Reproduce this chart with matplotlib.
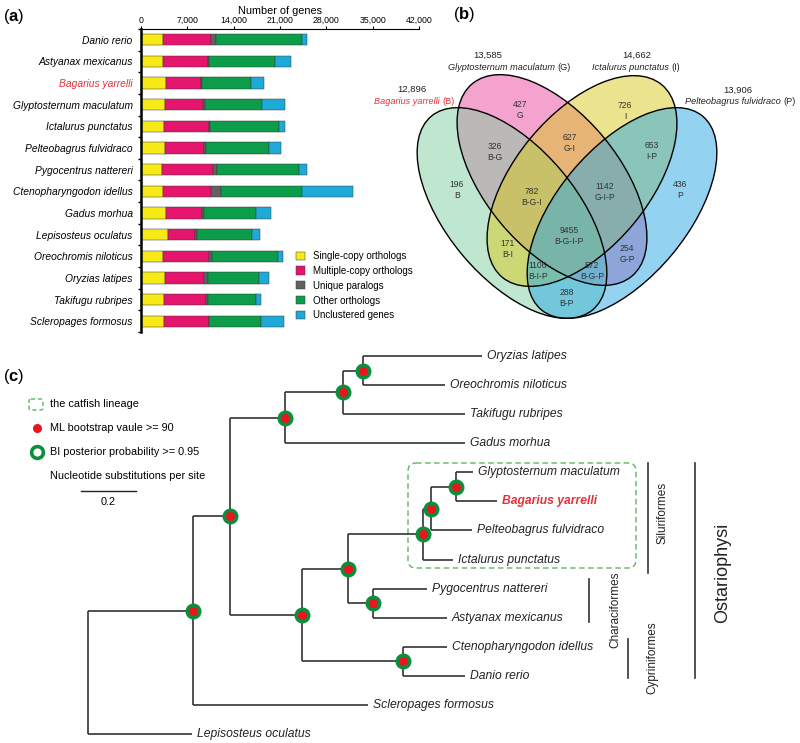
import numpy as np
import matplotlib
matplotlib.use("Agg")
import matplotlib.pyplot as plt
from matplotlib.patches import Ellipse, FancyBboxPatch, Rectangle

plt.rcParams['font.family'] = ['Liberation Sans', 'DejaVu Sans']
plt.rcParams['mathtext.fontset'] = 'custom'
plt.rcParams['mathtext.bf'] = 'Liberation Sans:bold'

# =========================
# data (a): gene family clustering
# =========================
species = ["Danio rerio", "Astyanax mexicanus", "Bagarius yarrelli",
           "Glyptosternum maculatum", "Ictalurus punctatus", "Pelteobagrus fulvidraco",
           "Pygocentrus nattereri", "Ctenopharyngodon idellus", "Gadus morhua",
           "Lepisosteus oculatus", "Oreochromis niloticus", "Oryzias latipes",
           "Takifugu rubripes", "Scleropages formosus"]
single_copy = [3330, 3380, 3780, 3680, 3530, 3680, 3230, 3380, 3730, 4130, 3380, 3680, 3530, 3430]
multi_copy = [7210, 6700, 5300, 5750, 6700, 5900, 7620, 7160, 5500, 4100, 6910, 5800, 6350, 6800]
unique_para = [800, 150, 100, 300, 250, 300, 600, 1510, 250, 300, 400, 600, 200, 100]
other_orth = [12960, 10040, 7400, 8520, 10400, 9430, 12400, 12210, 7920, 8310, 9990, 7770, 7320, 7770]
unclustered = [850, 2380, 2070, 3430, 910, 1870, 1200, 7810, 2220, 1160, 700, 1460, 700, 3430]
bar_names = ["Single-copy orthologs", "Multiple-copy orthologs", "Unique paralogs",
             "Other orthologs", "Unclustered genes"]
bar_colors = ["#f7ea16", "#e5156d", "#616161", "#0c9d4b", "#1eaad8"]

# =========================
# data (b): venn
# =========================
set_codes = ["B", "G", "I", "P"]
set_names = ["Bagarius yarrelli", "Glyptosternum maculatum", "Ictalurus punctatus",
             "Pelteobagrus fulvidraco"]
set_totals = [12896, 13585, 14662, 13906]
region_codes = ["B", "G", "I", "P", "B-G", "G-I", "I-P", "B-G-I", "G-I-P",
                "B-I", "G-P", "B-G-I-P", "B-I-P", "B-G-P", "B-P"]
region_counts = [196, 427, 726, 436, 326, 627, 653, 782, 1142, 171, 254, 9455, 1106, 572, 288]

# =========================
# data (c): tree (depth in substitutions per site)
# =========================
tips = ["Oryzias latipes", "Oreochromis niloticus", "Takifugu rubripes", "Gadus morhua",
        "Glyptosternum maculatum", "Bagarius yarrelli", "Pelteobagrus fulvidraco",
        "Ictalurus punctatus", "Pygocentrus nattereri", "Astyanax mexicanus",
        "Ctenopharyngodon idellus", "Danio rerio", "Scleropages formosus", "Lepisosteus oculatus"]
tip_depth = [1.433, 1.298, 1.371, 1.371, 1.40, 1.487, 1.396, 1.327, 1.233, 1.305,
             1.305, 1.371, 1.018, 0.378]
node_depth = {"root": 0.0, "n1": 0.382, "n2": 0.516, "n3": 0.716, "n4": 0.927, "n5": 1.0,
              "n7": 0.778, "n8": 0.945, "n9": 1.218, "n10": 1.247, "n11": 1.338,
              "n12": 1.145, "n13": 1.036}
node_children = {"root": ["n1", "Lepisosteus oculatus"],
                 "n1": ["n2", "Scleropages formosus"],
                 "n2": ["n3", "n7"],
                 "n3": ["n4", "Gadus morhua"],
                 "n4": ["n5", "Takifugu rubripes"],
                 "n5": ["Oryzias latipes", "Oreochromis niloticus"],
                 "n7": ["n8", "n12"],
                 "n8": ["n9", "n13"],
                 "n9": ["n10", "Ictalurus punctatus"],
                 "n10": ["n11", "Pelteobagrus fulvidraco"],
                 "n11": ["Glyptosternum maculatum", "Bagarius yarrelli"],
                 "n12": ["Ctenopharyngodon idellus", "Danio rerio"],
                 "n13": ["Pygocentrus nattereri", "Astyanax mexicanus"]}

RED = "#e2323a"
LINE = "#333333"

fig = plt.figure(figsize=(8, 7.43), dpi=100)

# pixel overlay for decorations
ov = fig.add_axes([0, 0, 1, 1])
ov.set_xlim(0, 800)
ov.set_ylim(743, 0)
ov.axis("off")

# =========================
# (a) stacked bars
# =========================
axa = fig.add_axes([141 / 800, 1 - 332 / 743, 278 / 800, 303 / 743])
ypos = np.arange(len(species))
left = np.zeros(len(species))
for vals, col, name in zip([single_copy, multi_copy, unique_para, other_orth, unclustered],
                           bar_colors, bar_names):
    axa.barh(ypos, vals, left=left, height=0.52, color=col, edgecolor="#3a3a3a",
             linewidth=0.35, label=name)
    left += np.array(vals)
axa.set_xlim(0, 42000)
axa.set_ylim(13.5, -0.5)
axa.xaxis.tick_top()
axa.xaxis.set_label_position("top")
axa.set_xticks(range(0, 42001, 7000))
axa.set_xticklabels([f"{v:,}" for v in range(0, 42001, 7000)])
axa.set_xlabel("Number of genes", fontsize=7.8, labelpad=1.5)
axa.tick_params(axis="x", labelsize=6.3, length=2, width=0.8, pad=0.8)
axa.set_yticks(ypos)
axa.set_yticklabels(species, style="italic", fontsize=7.4)
axa.set_yticks(np.arange(-0.5, 14, 1), minor=True)
axa.tick_params(axis="y", which="major", length=0, pad=6)
axa.tick_params(axis="y", which="minor", length=2.5, width=1.0)
axa.get_yticklabels()[2].set_color(RED)
for s in ["right", "bottom"]:
    axa.spines[s].set_visible(False)
axa.spines["left"].set_linewidth(1.8)
axa.spines["top"].set_linewidth(0.8)
axa.patch.set_alpha(0)
axa.legend(loc="upper left", bbox_to_anchor=(296, 251), bbox_transform=ov.transData,
           frameon=False, fontsize=7, handlelength=0.9, handleheight=0.9,
           handletextpad=0.8, labelspacing=0.5, borderpad=0, borderaxespad=0)

ov.text(3, 17, r"($\mathbf{a}$)", fontsize=12, va="center", ha="left")

# =========================
# (b) venn
# =========================
ov.text(453, 15, r"($\mathbf{b}$)", fontsize=12, va="center", ha="left")
ellipse_geom = {"G": (552, 180, 250, 134, 50.4),
                "B": (512, 213, 252, 130, 50.2),
                "I": (582, 181, 250, 134, -50.4),
                "P": (622, 213, 252, 130, -50.2)}
venn_fill = {"B": "#81d1a1", "G": "#eb479f", "I": "#d9c91d", "P": "#29a9e5"}
for code in ["G", "B", "I", "P"]:
    cx, cy, w, h, ang = ellipse_geom[code]
    ov.add_patch(Ellipse((cx, cy), w, h, angle=ang, facecolor=venn_fill[code],
                         alpha=0.5, edgecolor="none"))
for code in ["G", "B", "I", "P"]:
    cx, cy, w, h, ang = ellipse_geom[code]
    ov.add_patch(Ellipse((cx, cy), w, h, angle=ang, facecolor="none",
                         edgecolor="black", linewidth=1.0))

region_xy = {"B": (457, 190), "G": (520, 110), "I": (625, 111), "P": (680, 190),
             "B-G": (495, 152), "G-I": (570, 143), "I-P": (652, 151),
             "B-G-I": (532, 197), "G-I-P": (605, 192), "B-I": (508, 249),
             "G-P": (627, 254), "B-G-I-P": (569, 236), "B-I-P": (538, 271),
             "B-G-P": (592, 271), "B-P": (567, 298)}
for code, cnt in zip(region_codes, region_counts):
    x, y = region_xy[code]
    ov.text(x, y, f"{cnt}\n{code}", fontsize=6.2, ha="center", va="center",
            color="#333333", linespacing=1.15)

set_label_xy = {"B": (412, 89, 441, 102), "G": (488, 55, 556, 67),
                "I": (637, 55, 670, 67), "P": (738, 90, 782, 101)}
for code, name, tot in zip(set_codes, set_names, set_totals):
    nx, ny, sx, sy = set_label_xy[code]
    col = RED if code == "B" else "#222222"
    ov.text(nx, ny, f"{tot:,}", fontsize=6.8, ha="center", va="center", color="#222222")
    ov.text(sx - 1, sy, name, fontsize=6.6, style="italic", ha="right", va="center", color=col)
    ov.text(sx + 1, sy, f"({code})", fontsize=6.6, ha="left", va="center", color=col)

# =========================
# (c) tree
# =========================
ov.text(3, 377, r"($\mathbf{c}$)", fontsize=12, va="center", ha="left")

axc = fig.add_axes([0, 0, 1, 1])
axc.patch.set_alpha(0)
axc.axis("off")
x0, xs = 88, 275.0
y0, ys = 356, 29.08
axc.set_xlim(-x0 / xs, (800 - x0) / xs)
axc.set_ylim((743 - y0) / ys, -y0 / ys)

tip_y = {t: i for i, t in enumerate(tips)}
depth = dict(node_depth)
depth.update(dict(zip(tips, tip_depth)))
node_y = {}


def ycoord(name):
    if name in tip_y:
        return tip_y[name]
    if name not in node_y:
        node_y[name] = np.mean([ycoord(c) for c in node_children[name]])
    return node_y[name]


for node, kids in node_children.items():
    ky = [ycoord(k) for k in kids]
    axc.plot([depth[node], depth[node]], [min(ky), max(ky)], color=LINE, lw=1.2,
             solid_capstyle="butt")
    for k, yk in zip(kids, ky):
        axc.plot([depth[node], depth[k]], [yk, yk], color=LINE, lw=1.2,
                 solid_capstyle="butt")

for node in node_children:
    if node == "root":
        continue
    axc.plot(depth[node], ycoord(node), "o", ms=10.5, color="#0a8f3c", zorder=5)
    axc.plot(depth[node], ycoord(node), "o", ms=5.5, color="#e8161e", zorder=6)

for t in tips:
    bag = t == "Bagarius yarrelli"
    axc.annotate(t, (depth[t], tip_y[t]), xytext=(3.5, 0), textcoords="offset points",
                 fontsize=8.7, style="italic", ha="left", va="center",
                 color=RED if bag else "#222222", fontweight="bold" if bag else "normal")

# scale bar (0.2 substitutions per site)
axc.plot([-0.025, 0.175], [4.64, 4.64], color="#222222", lw=1.0)
ov.text(108, 502, "0.2", fontsize=7.8, ha="center", va="center")

# legend of (c)
ov.add_patch(FancyBboxPatch((29, 399), 14, 11, boxstyle="round,pad=0,rounding_size=2",
                            fill=False, edgecolor="#5cb85c", linestyle=(0, (3, 2)), lw=1.0))
ov.plot(37, 428, "o", ms=5.5, color="#e8161e")
ov.plot(37, 452, "o", ms=8.5, mfc="white", mec="#0a8f3c", mew=2.6)
ov.text(50, 404, "the catfish lineage", fontsize=7.8, va="center")
ov.text(50, 428, "ML bootstrap vaule >= 90", fontsize=7.8, va="center")
ov.text(50, 452, "BI posterior probability >= 0.95", fontsize=7.8, va="center")
ov.text(50, 476, "Nucleotide substitutions per site", fontsize=7.8, va="center")

# catfish lineage box
ov.add_patch(FancyBboxPatch((408, 463), 228, 105, boxstyle="round,pad=0,rounding_size=8",
                            fill=False, edgecolor="#5cb85c", linestyle=(0, (4, 2.5)), lw=1.0))

# clade bars
clades = [("Siluriformes", 648, 463, 573, 663, 513, 8.5),
          ("Characiformes", 589, 579, 622, 615, 610, 8.5),
          ("Cypriniformes", 628, 639, 678, 652, 658, 8.5),
          ("Ostariophysi", 695, 463, 678, 723, 573, 13)]
for name, lx, ya, yb, tx, ty, fs in clades:
    ov.plot([lx, lx], [ya, yb], color=LINE, lw=1.2)
    ov.text(tx, ty, name, rotation=90, fontsize=fs, ha="center", va="center", color="#222222")

fig.savefig("out.png", dpi=100)
